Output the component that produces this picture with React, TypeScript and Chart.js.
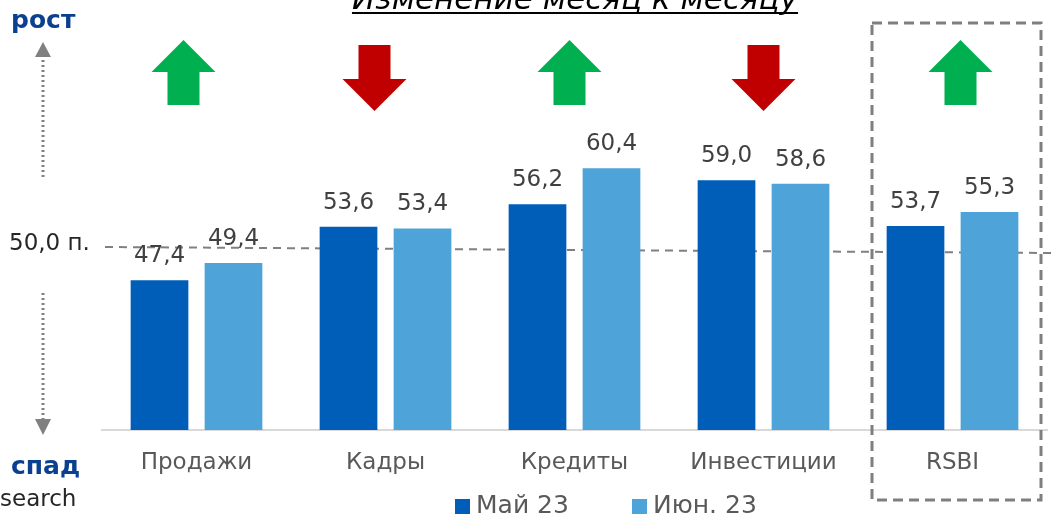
import React, { useEffect, useRef } from "react";
import { Chart, registerables } from "chart.js";

Chart.register(...registerables);

const CATEGORIES = ["Продажи", "Кадры", "Кредиты", "Инвестиции", "RSBI"];
const SERIES_NAMES = ["Май 23", "Июн. 23"];
const MAY_23 = [47.4, 53.6, 56.2, 59.0, 53.7];
const JUN_23 = [49.4, 53.4, 60.4, 58.6, 55.3];
const DIRECTIONS = ["up", "down", "up", "down", "up"];
const REFERENCE_LABEL = "50,0 п.";
const TITLE = "Изменение месяц к месяцу";

const DARK = "#005EB8";
const LIGHT = "#4EA3D8";
const NAVY = "#0B3F8F";
const GREY_TEXT = "#595959";
const FONT = "'DejaVu Sans', sans-serif";

const fmt = (v: number) => v.toFixed(1).replace(".", ",");

const overlay = {
  id: "overlay",
  beforeDatasetsDraw(chart: any) {
    const ctx = chart.ctx;
    ctx.save();
    ctx.strokeStyle = "#808080";
    ctx.lineWidth = 2;
    ctx.setLineDash([8, 6]);
    ctx.beginPath();
    ctx.moveTo(105, 247);
    ctx.lineTo(1053, 253);
    ctx.stroke();
    ctx.restore();
  },
  afterDatasetsDraw(chart: any) {
    const ctx = chart.ctx;
    ctx.save();
    ctx.font = `23px ${FONT}`;
    ctx.fillStyle = "#404040";
    ctx.textAlign = "center";
    ctx.textBaseline = "middle";
    chart.data.datasets.forEach((ds: any, i: number) => {
      const meta = chart.getDatasetMeta(i);
      meta.data.forEach((bar: any, j: number) => {
        ctx.fillText(fmt(ds.data[j]), bar.x, bar.y - 24);
      });
    });
    ctx.restore();
  },
  afterDraw(chart: any) {
    const ctx = chart.ctx;
    const xs = chart.scales.x;
    ctx.save();

    const offsets = [-13, -11, -5, 0, 8];
    DIRECTIONS.forEach((d, i) => {
      const cx = xs.getPixelForValue(i) + offsets[i];
      ctx.beginPath();
      if (d === "up") {
        ctx.fillStyle = "#00B050";
        ctx.moveTo(cx, 40);
        ctx.lineTo(cx + 32, 72);
        ctx.lineTo(cx + 16, 72);
        ctx.lineTo(cx + 16, 105);
        ctx.lineTo(cx - 16, 105);
        ctx.lineTo(cx - 16, 72);
        ctx.lineTo(cx - 32, 72);
      } else {
        ctx.fillStyle = "#C00000";
        ctx.moveTo(cx - 16, 45);
        ctx.lineTo(cx + 16, 45);
        ctx.lineTo(cx + 16, 79);
        ctx.lineTo(cx + 32, 79);
        ctx.lineTo(cx, 111);
        ctx.lineTo(cx - 32, 79);
        ctx.lineTo(cx - 16, 79);
      }
      ctx.closePath();
      ctx.fill();
    });

    ctx.strokeStyle = "#7F7F7F";
    ctx.lineWidth = 3;
    ctx.setLineDash([10, 6]);
    ctx.strokeRect(872, 23, 169, 477);
    ctx.setLineDash([]);

    ctx.strokeStyle = "#808080";
    ctx.fillStyle = "#808080";
    ctx.lineWidth = 3;
    ctx.setLineDash([2, 3]);
    ctx.beginPath();
    ctx.moveTo(43, 177);
    ctx.lineTo(43, 57);
    ctx.moveTo(43, 293);
    ctx.lineTo(43, 419);
    ctx.stroke();
    ctx.setLineDash([]);
    ctx.beginPath();
    ctx.moveTo(43, 42);
    ctx.lineTo(51, 57);
    ctx.lineTo(35, 57);
    ctx.closePath();
    ctx.fill();
    ctx.beginPath();
    ctx.moveTo(35, 419);
    ctx.lineTo(51, 419);
    ctx.lineTo(43, 435);
    ctx.closePath();
    ctx.fill();

    ctx.textBaseline = "middle";
    ctx.textAlign = "left";
    ctx.fillStyle = NAVY;
    ctx.font = `bold 25px ${FONT}`;
    ctx.fillText("рост", 11, 21);
    ctx.fillText("спад", 11, 467);
    ctx.fillStyle = "#262626";
    ctx.font = `23px ${FONT}`;
    ctx.fillText("search", 0, 500);
    ctx.fillText(REFERENCE_LABEL, 9, 244);

    ctx.font = `italic 31px ${FONT}`;
    ctx.fillStyle = "#000000";
    ctx.textAlign = "center";
    ctx.textBaseline = "alphabetic";
    const tw = ctx.measureText(TITLE).width;
    ctx.fillText(TITLE, 575, 9);
    ctx.fillRect(575 - tw / 2, 12, tw, 2);

    const colors = [DARK, LIGHT];
    const lx = [455, 632];
    ctx.font = `25px ${FONT}`;
    ctx.textAlign = "left";
    ctx.textBaseline = "middle";
    SERIES_NAMES.forEach((n, i) => {
      ctx.fillStyle = colors[i];
      ctx.fillRect(lx[i], 499, 15, 15);
      ctx.fillStyle = GREY_TEXT;
      ctx.fillText(n, lx[i] + 21, 506);
    });
    ctx.restore();
  },
};

export default function App() {
  const ref = useRef<HTMLCanvasElement>(null);
  useEffect(() => {
    if (!ref.current) return;
    const chart = new Chart(ref.current, {
      type: "bar",
      data: {
        labels: CATEGORIES,
        datasets: [
          { label: SERIES_NAMES[0], data: MAY_23, backgroundColor: DARK },
          { label: SERIES_NAMES[1], data: JUN_23, backgroundColor: LIGHT },
        ],
      },
      options: {
        responsive: false,
        animation: false,
        layout: { padding: { left: 102, right: 6, top: 8, bottom: 0 } },
        plugins: { legend: { display: false }, tooltip: { enabled: false } },
        datasets: { bar: { categoryPercentage: 0.783, barPercentage: 0.78 } },
        scales: {
          x: {
            grid: { display: false, drawTicks: false },
            border: { display: true, color: "#D9D9D9", width: 2 },
            ticks: {
              color: GREY_TEXT,
              font: { family: FONT, size: 23 },
              padding: 19,
              maxRotation: 0,
            },
            afterFit: (s: any) => {
              s.height = 88;
            },
          },
          y: { display: false, min: 30, max: 79 },
        },
      },
      plugins: [overlay],
    });
    return () => chart.destroy();
  }, []);
  return (
    <div style={{ position: "fixed", left: 0, top: 0, width: 1053, height: 518, background: "#fff" }}>
      <canvas ref={ref} width={1053} height={518} />
    </div>
  );
}
